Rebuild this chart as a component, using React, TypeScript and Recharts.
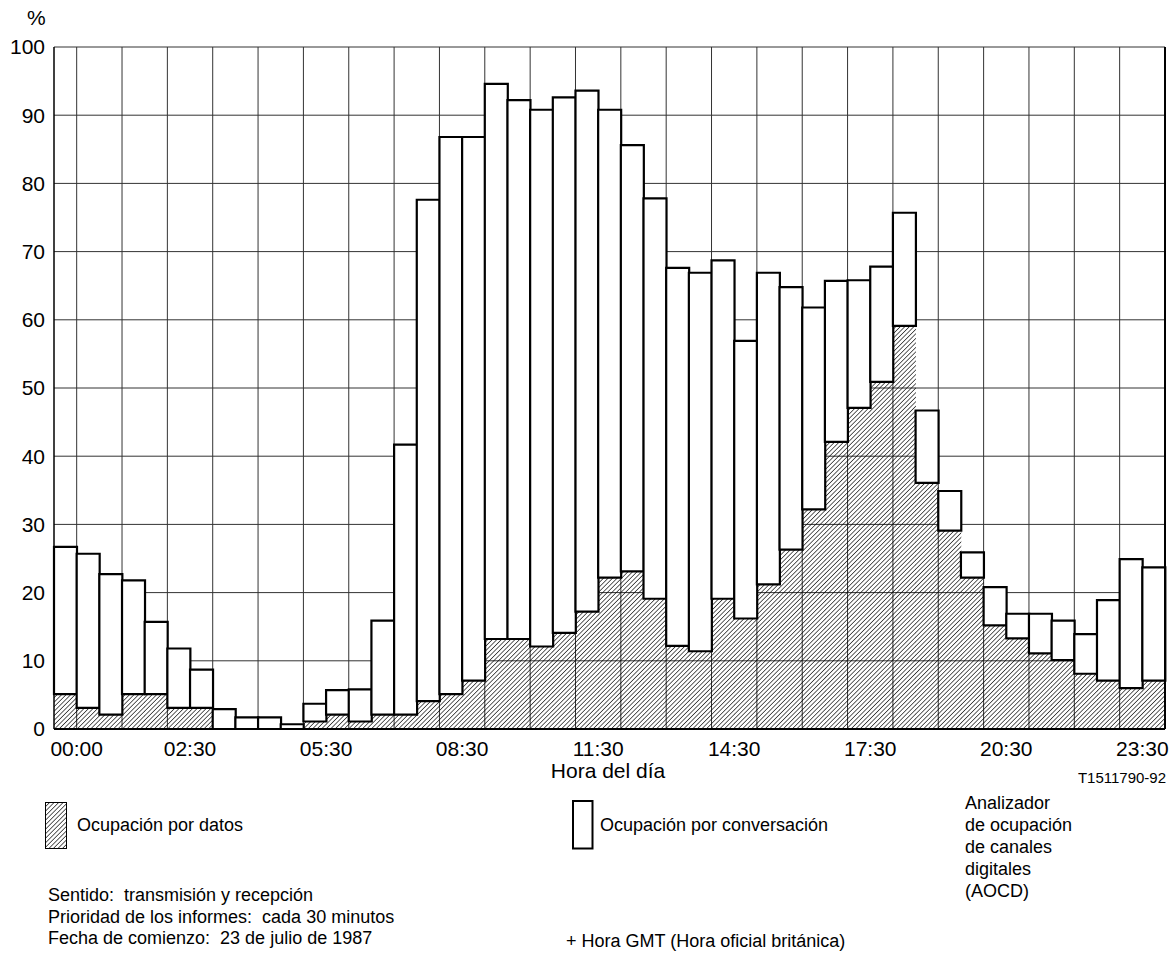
import React from 'react';
import {
  BarChart,
  Bar,
  XAxis,
  YAxis,
  CartesianGrid,
  ReferenceLine,
} from 'recharts';

// half-hour slots, value = start hour (first slot is 23:30 of the previous day)
const slots = [
  -0.5, 0, 0.5, 1, 1.5, 2, 2.5, 3, 3.5, 4, 4.5, 5, 5.5, 6, 6.5, 7, 7.5,
  8, 8.5, 9, 9.5, 10, 10.5, 11, 11.5, 12, 12.5, 13, 13.5, 14, 14.5, 15,
  15.5, 16, 16.5, 17, 17.5, 18, 18.5, 19, 19.5, 20, 20.5, 21, 21.5, 22,
  22.5, 23, 23.5,
];

// total occupation (%) per slot
const totalOcc = [
  26.7, 25.7, 22.7, 21.8, 15.7, 11.8, 8.7, 2.9, 1.7, 1.7, 0.7, 3.7, 5.7,
  5.8, 15.9, 41.7, 77.6, 86.8, 86.8, 94.6, 92.2, 90.8, 92.6, 93.6, 90.8,
  85.6, 77.8, 67.6, 66.9, 68.7, 56.9, 66.9, 64.8, 61.8, 65.7, 65.8, 67.8,
  75.7, 46.7, 34.9, 25.9, 20.8, 16.9, 16.9, 15.9, 13.9, 18.9, 24.9, 23.7,
];

// data occupation (%) per slot
const dataOcc = [
  5.1, 3.1, 2.1, 5.1, 5.1, 3.1, 3.1, 0, 0, 0, 0, 1.1, 2.1, 1.1, 2.1, 2.1,
  4.1, 5.1, 7.1, 13.2, 13.2, 12.1, 14.1, 17.2, 22.2, 23.1, 19.1, 12.2,
  11.4, 19.1, 16.2, 21.2, 26.3, 32.2, 42.1, 47.1, 50.9, 59.1, 36.1, 29.1,
  22.2, 15.2, 13.3, 11.1, 10.1, 8.1, 7.1, 6.0, 7.1,
];

// labelled time marks (at the start of the slot)
const tickHours = [0, 2.5, 5.5, 8.5, 11.5, 14.5, 17.5, 20.5, 23.5];
const tickLabels = ['00:00', '02:30', '05:30', '08:30', '11:30', '14:30', '17:30', '20:30', '23:30'];
// vertical grid every hour
const gridHours = [0, 1, 2, 3, 4, 5, 6, 7, 8, 9, 10, 11, 12, 13, 14, 15, 16, 17, 18, 19, 20, 21, 22, 23];
const yTicks = [0, 10, 20, 30, 40, 50, 60, 70, 80, 90, 100];

const rows = slots.map((s, i) => ({
  slot: s,
  datos: dataOcc[i],
  conv: Math.max(0, +(totalOcc[i] - dataOcc[i]).toFixed(2)),
}));

const font = "'Liberation Sans', Arial, Helvetica, sans-serif";

function Hatch({ id }: { id: string }) {
  return (
    <pattern id={id} width="3.2" height="3.2" patternUnits="userSpaceOnUse" patternTransform="rotate(45)">
      <line x1="0" y1="0" x2="0" y2="3.2" stroke="#000" strokeWidth="1.25" />
    </pattern>
  );
}

// tick drawn at the start of its half-hour slot, only for labelled slots
function TimeTick(props: any) {
  const { x, y, payload } = props;
  const idx = tickHours.indexOf(payload.value);
  if (idx < 0) return null;
  const half = payload.offset ?? 0;
  return (
    <text x={x - half} y={y} dy="0.71em" textAnchor="middle" fontSize={21} fill="#000">
      {tickLabels[idx]}
    </text>
  );
}

// grid lines at every whole hour (start of that slot) plus the right edge
function gridX({ xAxis, offset }: any) {
  const scale = xAxis?.scale;
  const band = offset.width / slots.length;
  const pts = gridHours.map((h) => {
    if (typeof scale === 'function') {
      const v = scale(h);
      if (typeof v === 'number' && !Number.isNaN(v)) return v;
    }
    return offset.left + slots.indexOf(h) * band;
  });
  pts.push(offset.left + offset.width);
  return pts;
}

const txt: React.CSSProperties = {
  position: 'absolute',
  fontSize: 18,
  lineHeight: '24px',
  color: '#000',
  whiteSpace: 'nowrap',
};

export default function App() {
  return (
    <div
      style={{
        position: 'absolute',
        left: 0,
        top: 0,
        width: 1176,
        height: 953,
        background: '#fff',
        fontFamily: font,
        color: '#000',
      }}
    >
      <BarChart
        width={1176}
        height={760}
        data={rows}
        margin={{ top: 47, right: 11, bottom: 0, left: 8 }}
        barCategoryGap={0}
        barGap={0}
      >
        <defs>
          <Hatch id="hatch" />
        </defs>
        <CartesianGrid stroke="#333" strokeWidth={1} verticalCoordinatesGenerator={gridX} />
        <XAxis
          dataKey="slot"
          type="category"
          interval={0}
          height={31}
          tickLine={false}
          tickSize={6}
          tickMargin={6}
          axisLine={{ stroke: '#000', strokeWidth: 2 }}
          tick={<TimeTick />}
        />
        <YAxis
          domain={[0, 100]}
          ticks={yTicks}
          interval={0}
          width={46}
          tickLine={false}
          tickSize={6}
          tickMargin={3}
          axisLine={{ stroke: '#000', strokeWidth: 1.5 }}
          tick={{ fill: '#000', fontSize: 21 }}
        />
        <Bar dataKey="datos" stackId="a" fill="url(#hatch)" stroke="none" isAnimationActive={false} />
        <Bar
          dataKey="conv"
          stackId="a"
          fill="#fff"
          stroke="#000"
          strokeWidth={2.2}
          isAnimationActive={false}
        />
        <ReferenceLine x={23.5} position="end" stroke="#000" strokeWidth={2} />
      </BarChart>

      <div style={{ ...txt, fontSize: 21, lineHeight: '26px', left: 27, top: 5 }}>%</div>
      <div
        style={{ ...txt, fontSize: 21, lineHeight: '26px', left: 508, width: 200, textAlign: 'center', top: 758 }}
      >
        Hora del día
      </div>
      <div style={{ ...txt, fontSize: 15, lineHeight: '20px', left: 966, width: 200, textAlign: 'right', top: 768 }}>
        T1511790-92
      </div>

      <svg style={{ position: 'absolute', left: 45, top: 802 }} width={23} height={48}>
        <defs>
          <Hatch id="hatchLegend" />
        </defs>
        <rect x={0.5} y={0.5} width={21} height={46} fill="url(#hatchLegend)" stroke="#000" strokeWidth={1} />
      </svg>
      <div style={{ ...txt, left: 77, top: 813 }}>Ocupación por datos</div>

      <svg style={{ position: 'absolute', left: 572, top: 800 }} width={22} height={50}>
        <rect x={1} y={1} width={19.5} height={47.5} fill="#fff" stroke="#000" strokeWidth={2} />
      </svg>
      <div style={{ ...txt, left: 600, top: 813 }}>Ocupación por conversación</div>

      <div style={{ ...txt, left: 965, top: 792, lineHeight: '22px' }}>
        Analizador
        <br />
        de ocupación
        <br />
        de canales
        <br />
        digitales
        <br />
        (AOCD)
      </div>

      <div style={{ ...txt, left: 48, top: 885, lineHeight: '21.5px' }}>
        Sentido:&nbsp; transmisión y recepción
        <br />
        Prioridad de los informes:&nbsp; cada 30 minutos
        <br />
        Fecha de comienzo:&nbsp; 23 de julio de 1987
      </div>

      <div style={{ ...txt, left: 566, top: 929 }}>+ Hora GMT (Hora oficial británica)</div>
    </div>
  );
}
